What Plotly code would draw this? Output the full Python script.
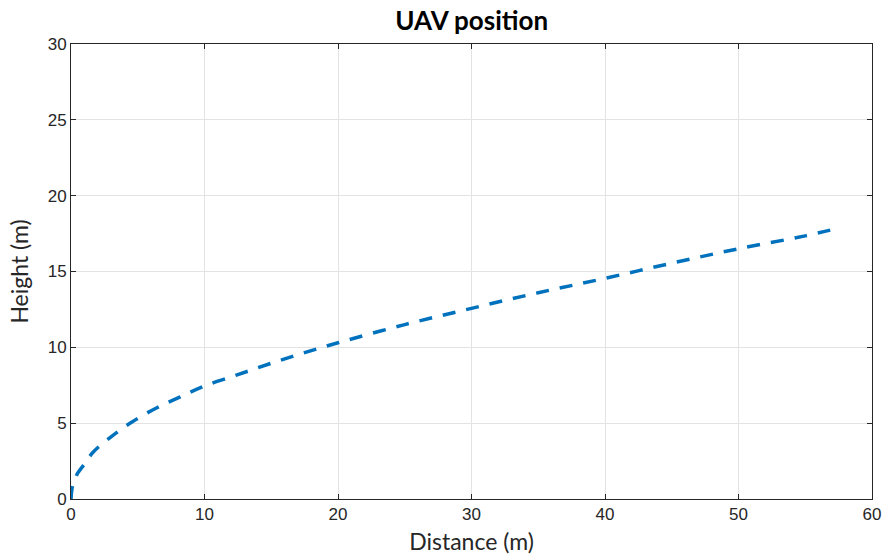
import plotly.graph_objects as go

distance = [0, 0.1, 0.3, 0.5, 1.0, 1.67, 3.0, 4.6, 6.4, 8.1, 10, 12.5, 15, 17.5, 20,
            25, 30, 35, 40, 45, 50, 55, 57.2]
height = [0, 0.8, 1.3, 1.7, 2.3, 3.1, 4.1, 5.1, 6.0, 6.7, 7.45, 8.2, 8.95, 9.65, 10.3,
          11.5, 12.57, 13.6, 14.55, 15.55, 16.5, 17.35, 17.8]

x_ticks = [0, 10, 20, 30, 40, 50, 60]
y_ticks = [0, 5, 10, 15, 20, 25, 30]

fig = go.Figure()
fig.add_trace(go.Scatter(
    x=distance, y=height, mode="lines",
    line=dict(color="#0072BD", width=3.5, dash="13px,11px", shape="spline"),
    showlegend=False,
))

tick_font = dict(family="Liberation Sans", size=17, color="#262626")
label_font = dict(family="Lato", size=23, color="#262626")

axis_common = dict(
    showline=True, linecolor="#262626", linewidth=1, mirror="ticks",
    ticks="inside", ticklen=5, tickcolor="#262626",
    showgrid=True, gridcolor="#e3e3e3", gridwidth=1,
    zeroline=False, automargin=False,
    tickfont=tick_font,
)

fig.update_layout(
    width=885, height=558,
    margin=dict(l=71, r=13, t=44, b=59),
    paper_bgcolor="white", plot_bgcolor="white",
    font=dict(family="Liberation Sans", size=17, color="#262626"),
    title=dict(text="<b>UAV position</b>", x=0.533, xanchor="center",
               y=1 - 21 / 558, yanchor="middle",
               font=dict(family="Lato", size=26, color="#000000")),
    xaxis=dict(range=[0, 60], tickvals=x_ticks, **axis_common,
               title=dict(text="Distance (m)", standoff=10, font=label_font)),
    yaxis=dict(range=[0, 30], tickvals=y_ticks, **axis_common,
               title=dict(text="Height (m)", standoff=12, font=label_font)),
)

fig.write_html("out.html")
